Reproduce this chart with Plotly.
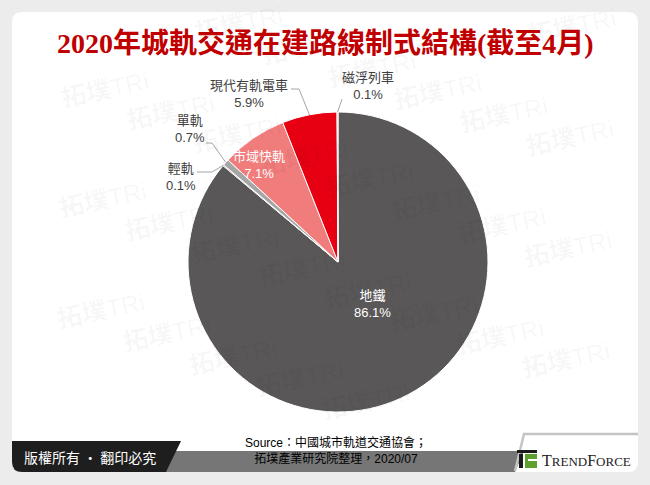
import math
import plotly.graph_objects as go

# ---------------- data ----------------
labels = ["地鐵", "輕軌", "單軌", "市域快軌", "現代有軌電車", "磁浮列車"]
values = [86.1, 0.1, 0.7, 7.1, 5.9, 0.1]
slice_colors = ["#595757", "#3f3f3f", "#a6a6a6", "#f07c7c", "#e60012", "#bfbfbf"]
title_text = "2020年城軌交通在建路線制式結構(截至4月)"
source_text = "Source：中國城市軌道交通協會；<br>拓墣產業研究院整理，2020/07"
copyright_text = "版權所有 · 翻印必究"

W, H = 650, 485


def px(x):
    return x / W


def py(y):
    return 1 - y / H


# pie geometry (pixels)
cx, cy, r = 338, 262, 150

fig = go.Figure()
fig.add_trace(go.Pie(
    labels=labels, values=values, sort=False, direction="clockwise", rotation=0,
    marker=dict(colors=slice_colors, line=dict(color="white", width=1)),
    textinfo="none", hoverinfo="label+percent", showlegend=False,
    domain=dict(x=[px(cx - r), px(cx + r)], y=[py(cy + r), py(cy - r)]),
))

# label placement (pixel centre of text block) and leader line starts
label_pos = {
    "地鐵": (372, 304, "white", None),
    "市域快軌": (259, 165, "white", None),
    "現代有軌電車": (249, 94, "#404040", [(291, 89), (299, 89)]),
    "磁浮列車": (368, 86, "#404040", [(342, 99)]),
    "單軌": (190, 129, "#404040", [(206, 143), (212, 143)]),
    "輕軌": (181, 177, "#404040", [(197, 172), (212, 172)]),
}

total = sum(values)
cum = 0.0
edge_pts = {}
for lab, v in zip(labels, values):
    mid = (cum + v / 2) / total * 2 * math.pi
    edge_pts[lab] = (cx + r * math.sin(mid), cy - r * math.cos(mid))
    cum += v

shapes = []
annotations = []


def rounded_rect(x0, y0, x1, y1, rad):
    X = lambda x: px(x)
    Y = lambda y: py(y)
    return (f"M {X(x0+rad)},{Y(y0)} L {X(x1-rad)},{Y(y0)} Q {X(x1)},{Y(y0)} {X(x1)},{Y(y0+rad)} "
            f"L {X(x1)},{Y(y1-rad)} Q {X(x1)},{Y(y1)} {X(x1-rad)},{Y(y1)} "
            f"L {X(x0+rad)},{Y(y1)} Q {X(x0)},{Y(y1)} {X(x0)},{Y(y1-rad)} "
            f"L {X(x0)},{Y(y0+rad)} Q {X(x0)},{Y(y0)} {X(x0+rad)},{Y(y0)} Z")


def poly(pts):
    return "M " + " L ".join(f"{px(x)},{py(y)}" for x, y in pts) + " Z"


# background panel (rounded white)
shapes.append(dict(type="path", xref="paper", yref="paper", path=rounded_rect(12, 12, 638, 472, 10),
                   fillcolor="white", line=dict(width=0), layer="below"))

# footer gray band
shapes.append(dict(type="path", xref="paper", yref="paper",
                   path=poly([(150, 451), (524, 451), (515, 472), (150, 472)]),
                   fillcolor="#767676", line=dict(width=0), layer="below"))
# black copyright bar with rounded bottom-left
shapes.append(dict(type="path", xref="paper", yref="paper",
                   path=(f"M {px(12)},{py(441)} L {px(181)},{py(441)} L {px(166)},{py(472)} "
                         f"L {px(22)},{py(472)} Q {px(12)},{py(472)} {px(12)},{py(462)} Z"),
                   fillcolor="#1e1e1e", line=dict(width=0), layer="below"))
# logo box border
shapes.append(dict(type="path", xref="paper", yref="paper",
                   path=f"M {px(515)},{py(471)} L {px(524)},{py(434)} L {px(638)},{py(434)}",
                   line=dict(color="#c4c4c4", width=2.5), layer="below"))
# logo icon
shapes.append(dict(type="rect", xref="paper", yref="paper", x0=px(517), x1=px(537), y0=py(453), y1=py(450),
                   fillcolor="#1a1a1a", line=dict(width=0)))
shapes.append(dict(type="rect", xref="paper", yref="paper", x0=px(519), x1=px(523), y0=py(468), y1=py(454),
                   fillcolor="#1a1a1a", line=dict(width=0)))
shapes.append(dict(type="rect", xref="paper", yref="paper", x0=px(525), x1=px(537), y0=py(468), y1=py(454),
                   fillcolor="#5da02e", line=dict(width=0)))
shapes.append(dict(type="rect", xref="paper", yref="paper", x0=px(528), x1=px(537), y0=py(461), y1=py(459),
                   fillcolor="white", line=dict(width=0)))

# watermark lattice (faint)
th = math.radians(12)
ux, uy = 205 * math.cos(th), -205 * math.sin(th)
vx, vy = 60 * math.cos(th) + 36 * math.sin(th), -60 * math.sin(th) + 36 * math.cos(th)
ox, oy = 108, 103
for i in range(-6, 8):
    for j in range(-6, 14):
        wx = ox + i * ux + j * vx
        wy = oy + i * uy + j * vy
        if 64 <= wx <= 588 and 30 <= wy <= 425:
            annotations.append(dict(
                xref="paper", yref="paper", x=px(wx), y=py(wy), xanchor="center", yanchor="middle",
                text="<b>拓墣</b>TRi<br><span style='font-size:7px'>TOPOLOGY RESEARCH INSTITUTE</span>",
                showarrow=False, textangle=-12,
                font=dict(size=25, color="rgba(0,0,0,0.04)", family="Liberation Sans, Noto Sans CJK TC"),
            ))

# slice labels + leader lines
for lab, v in zip(labels, values):
    x, y, col, lead = label_pos[lab]
    annotations.append(dict(
        xref="paper", yref="paper", x=px(x), y=py(y), xanchor="center", yanchor="middle",
        text=f"{lab}<br>{v:.1f}%", showarrow=False, align="center",
        font=dict(size=13, color=col, family="Liberation Sans, Noto Sans CJK TC"),
    ))
    if lead:
        pts = lead + [edge_pts[lab]]
        shapes.append(dict(type="path", xref="paper", yref="paper",
                           path="M " + " L ".join(f"{px(a)},{py(b)}" for a, b in pts),
                           line=dict(color="#a6a6a6", width=1)))

# title
annotations.append(dict(xref="paper", yref="paper", x=px(326), y=py(43), xanchor="center", yanchor="middle",
                        text=f"<b>{title_text}</b>", showarrow=False,
                        font=dict(size=28, color="#c00000", family="Liberation Serif, Noto Sans CJK TC")))
# source
annotations.append(dict(xref="paper", yref="paper", x=px(336), y=py(450), xanchor="center", yanchor="middle",
                        text=source_text, showarrow=False, align="center",
                        font=dict(size=12, color="black", family="Liberation Sans, Noto Sans CJK TC")))
# copyright
annotations.append(dict(xref="paper", yref="paper", x=px(90), y=py(457), xanchor="center", yanchor="middle",
                        text=copyright_text, showarrow=False,
                        font=dict(size=14, color="white", family="Noto Sans CJK TC")))
# logo text
annotations.append(dict(xref="paper", yref="paper", x=px(540), y=py(460), xanchor="left", yanchor="middle",
                        text="T<span style='font-size:13px'>REND</span>F<span style='font-size:13px'>ORCE</span>",
                        showarrow=False,
                        font=dict(size=16, color="#222222", family="Liberation Serif")))

fig.update_layout(
    width=W, height=H, margin=dict(l=0, r=0, t=0, b=0),
    paper_bgcolor="#ececec", plot_bgcolor="#ececec",
    shapes=shapes, annotations=annotations, showlegend=False,
)

fig.write_html("out.html", config={"displayModeBar": False},
               post_script="document.body.style.margin='0';document.body.style.overflow='hidden';")
